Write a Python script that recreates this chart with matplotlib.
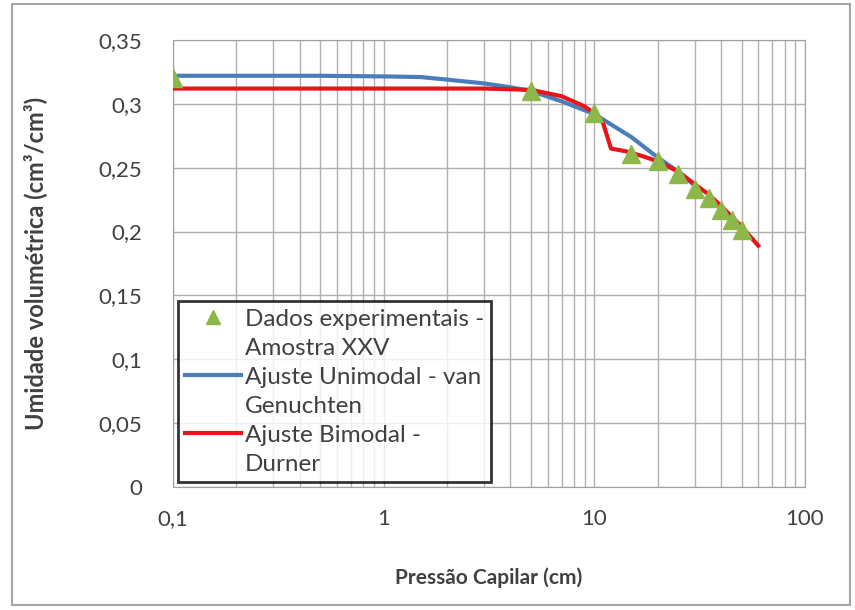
import matplotlib
matplotlib.use("Agg")
import matplotlib.pyplot as plt
from matplotlib.lines import Line2D
from matplotlib.patches import Rectangle
from matplotlib.ticker import FixedLocator, FuncFormatter, LogLocator, NullFormatter

plt.rcParams["font.family"] = ["Lato", "DejaVu Sans"]

# experimental points (Amostra XXV)
exp_h = [0.1, 5, 10, 15, 20, 25, 30, 35, 40, 45, 50]
exp_theta = [0.320, 0.310, 0.293, 0.261, 0.255, 0.245, 0.233, 0.226, 0.217, 0.209, 0.201]

# unimodal fit - van Genuchten
vg_h = [0.1, 0.5, 1, 1.5, 2, 3, 4, 5, 7, 10, 15, 20, 25, 30]
vg_theta = [0.322, 0.322, 0.3215, 0.321, 0.319, 0.316, 0.313, 0.310, 0.302, 0.292, 0.274, 0.258, 0.247, 0.236]

# bimodal fit - Durner
du_h = [0.1, 1, 3, 5, 7, 9, 10.5, 11, 12, 14, 17, 20, 25, 30, 35, 40, 50, 60]
du_theta = [0.312, 0.312, 0.312, 0.311, 0.306, 0.298, 0.290, 0.285, 0.265, 0.263,
            0.259, 0.255, 0.247, 0.237, 0.229, 0.220, 0.204, 0.189]

def comma(v, pos):
    return f"{v:g}".replace(".", ",")

fig = plt.figure(figsize=(8.55, 6.1), dpi=100)
ax = fig.add_axes([0.2023, 0.2016, 0.7392, 0.7328])

# outer chart frame
fig.patches.append(Rectangle((0.014, 0.008), 0.98, 0.985, transform=fig.transFigure,
                             fill=False, edgecolor="#a6a6a6", lw=1.5))

vg_line, = ax.plot(vg_h, vg_theta, color="#4a7ebb", lw=3, zorder=3)
du_line, = ax.plot(du_h, du_theta, color="#e8141b", lw=3, zorder=3)
pts, = ax.plot(exp_h, exp_theta, ls="none", marker="^", ms=13, color="#8db849", zorder=4)

ax.set_xscale("log")
ax.set_xlim(0.1, 100)
ax.set_ylim(0, 0.35)
ax.yaxis.set_major_locator(FixedLocator([0, 0.05, 0.1, 0.15, 0.2, 0.25, 0.3, 0.35]))
ax.yaxis.set_major_formatter(FuncFormatter(comma))
ax.xaxis.set_major_locator(FixedLocator([0.1, 1, 10, 100]))
ax.xaxis.set_major_formatter(FuncFormatter(comma))
ax.xaxis.set_minor_locator(LogLocator(base=10, subs=range(2, 10)))
ax.xaxis.set_minor_formatter(NullFormatter())

ax.grid(True, which="major", color="#b0b0b0", lw=1)
ax.grid(True, which="minor", axis="x", color="#b0b0b0", lw=1)
ax.set_axisbelow(True)
for s in ax.spines.values():
    s.set_color("#a0a0a0")
ax.tick_params(which="both", length=0, labelsize=16, colors="#404040")
ax.tick_params(axis="y", pad=22)
ax.tick_params(axis="x", pad=16)

ax.set_xlabel("Pressão Capilar (cm)", fontsize=15, fontweight="bold", color="#404040")
ax.set_ylabel("Umidade volumétrica (cm³/cm³)", fontsize=17, fontweight="bold", color="#404040")
ax.xaxis.set_label_coords(0.5, -0.18)
ax.yaxis.set_label_coords(-0.2, 0.5)

# one legend row per text line, so the key sits on the first line of each label
blank = Line2D([], [], ls="none")
handles = [pts, blank, vg_line, blank, du_line, blank]
labels = ["Dados experimentais -", "Amostra XXV", "Ajuste Unimodal - van", "Genuchten",
          "Ajuste Bimodal -", "Durner"]
leg = ax.legend(handles, labels, loc="lower left", bbox_to_anchor=(0.008, 0.011),
                fontsize=17.5, frameon=True, fancybox=False, handlelength=2.3,
                handletextpad=0.15, borderpad=0.3, labelspacing=0.33, borderaxespad=0,
                markerscale=0.8)
leg.get_frame().set_edgecolor("black")
leg.get_frame().set_linewidth(2)
for t in leg.get_texts():
    t.set_color("#404040")

fig.savefig("out.png", dpi=100)
